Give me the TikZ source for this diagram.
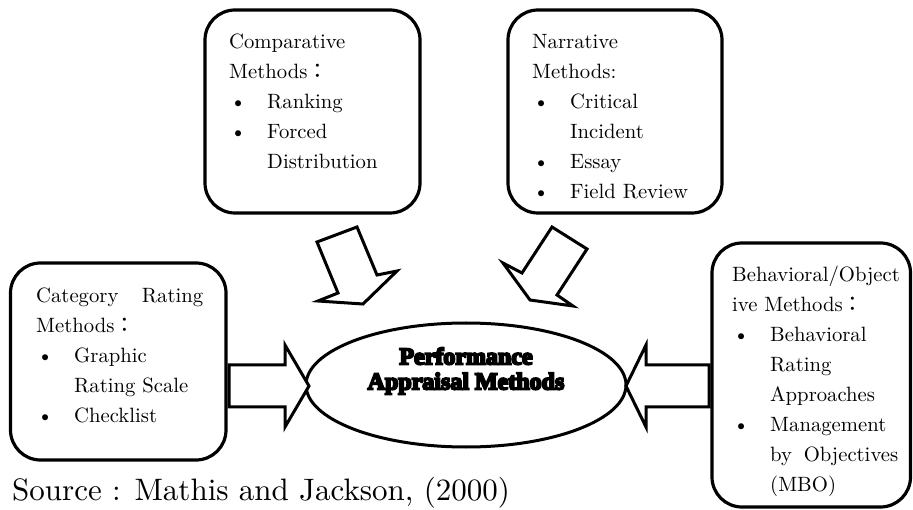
\documentclass[tikz,border=0pt]{standalone}
\usepackage{fontspec}
\setmainfont{lmroman10-regular}[Extension=.otf]
\newfontfamily\cjk{Noto Sans CJK JP}
\newfontfamily\heavyfont{Liberation Serif}[UprightFont={* Bold}, FakeBold=8]
\usetikzlibrary{shapes.geometric}
\tikzset{
  box/.style={draw, line width=3.2pt, rounded corners=30pt, inner sep=0pt},
  blockarrow/.style={draw, line width=3pt, line join=miter, fill=white},
  boxtext/.style={anchor=base west, inner sep=0pt, font=\fontsize{20.7}{30}\selectfont},
}
\newcommand{\bul}{\leavevmode\makebox[38pt][l]{\hspace{1pt}\textbullet}}
\newcommand{\ind}{\leavevmode\hspace*{38pt}}
\newcommand{\fcolon}{{\cjk ：}}
\begin{document}
\begin{tikzpicture}[x=1pt,y=-1pt]
\useasboundingbox (0,0) rectangle (913,510);
\fill[white] (0,0) rectangle (913,510);

% boxes
\node[box, minimum width=215pt, minimum height=203pt] (comp) at (312.5,111.5) {};
\node[box, minimum width=214pt, minimum height=203pt] (narr) at (615,111.5) {};
\node[box, minimum width=215.5pt, minimum height=197pt] (cat) at (118.25,361.5) {};
\node[box, minimum width=198.5pt, minimum height=264pt] (beh) at (811.25,375) {};

% box texts
\node[boxtext] (comptext) at (229,49) {\parbox[t]{180pt}{\raggedright
Comparative\\
Methods\fcolon\\
\bul Ranking\\
\bul Forced\\
\ind Distribution}};

\node[boxtext] (narrtext) at (532,49) {\parbox[t]{180pt}{\raggedright
Narrative\\
Methods:\\
\bul Critical\\
\ind Incident\\
\bul Essay\\
\bul Field Review}};

\node[boxtext] (cattext) at (36,303) {\parbox[t]{180pt}{\raggedright
\leavevmode\hbox to 167pt{Category\hfill Rating}\\
Methods\fcolon\\
\bul Graphic\\
\ind Rating Scale\\
\bul Checklist}};

\node[boxtext] (behtext) at (732,282) {\parbox[t]{178pt}{\raggedright
Behavioral/Object\\
ive Methods\fcolon\\
\bul Behavioral\\
\ind Rating\\
\ind Approaches\\
\bul Management\\
\ind\hbox to 128pt{by\hfill Objectives}\\
\ind (MBO)}};

% central ellipse
\node[draw, ellipse, line width=3pt, minimum width=320pt, minimum height=124pt, inner sep=0pt] (pam) at (466,385) {};
\node[align=center, inner sep=0pt, font=\heavyfont\fontsize{24}{25}\selectfont] (pamtext) at (466,371) {Performance\\Appraisal Methods};

% block arrows
\draw[blockarrow] (229,365) -- (285,365) -- (285,345) -- (309,386) -- (285,427) -- (285,407) -- (229,407) -- cycle;
\draw[blockarrow] (709,365) -- (646,365) -- (646,345) -- (626,386) -- (646,427) -- (646,407) -- (709,407) -- cycle;
\draw[blockarrow] (317,242) -- (357,227) -- (377,275) -- (397,271) -- (363,304) -- (318,301) -- (338,293) -- cycle;
\draw[blockarrow] (552,227) -- (587,249) -- (557,295) -- (573,306) -- (530,300) -- (503,263) -- (522,273) -- cycle;

% source
\node[anchor=base west, inner sep=0pt, font=\fontsize{31}{36}\selectfont] (src) at (12,500) {Source : Mathis and Jackson, (2000)};
\end{tikzpicture}
\end{document}
